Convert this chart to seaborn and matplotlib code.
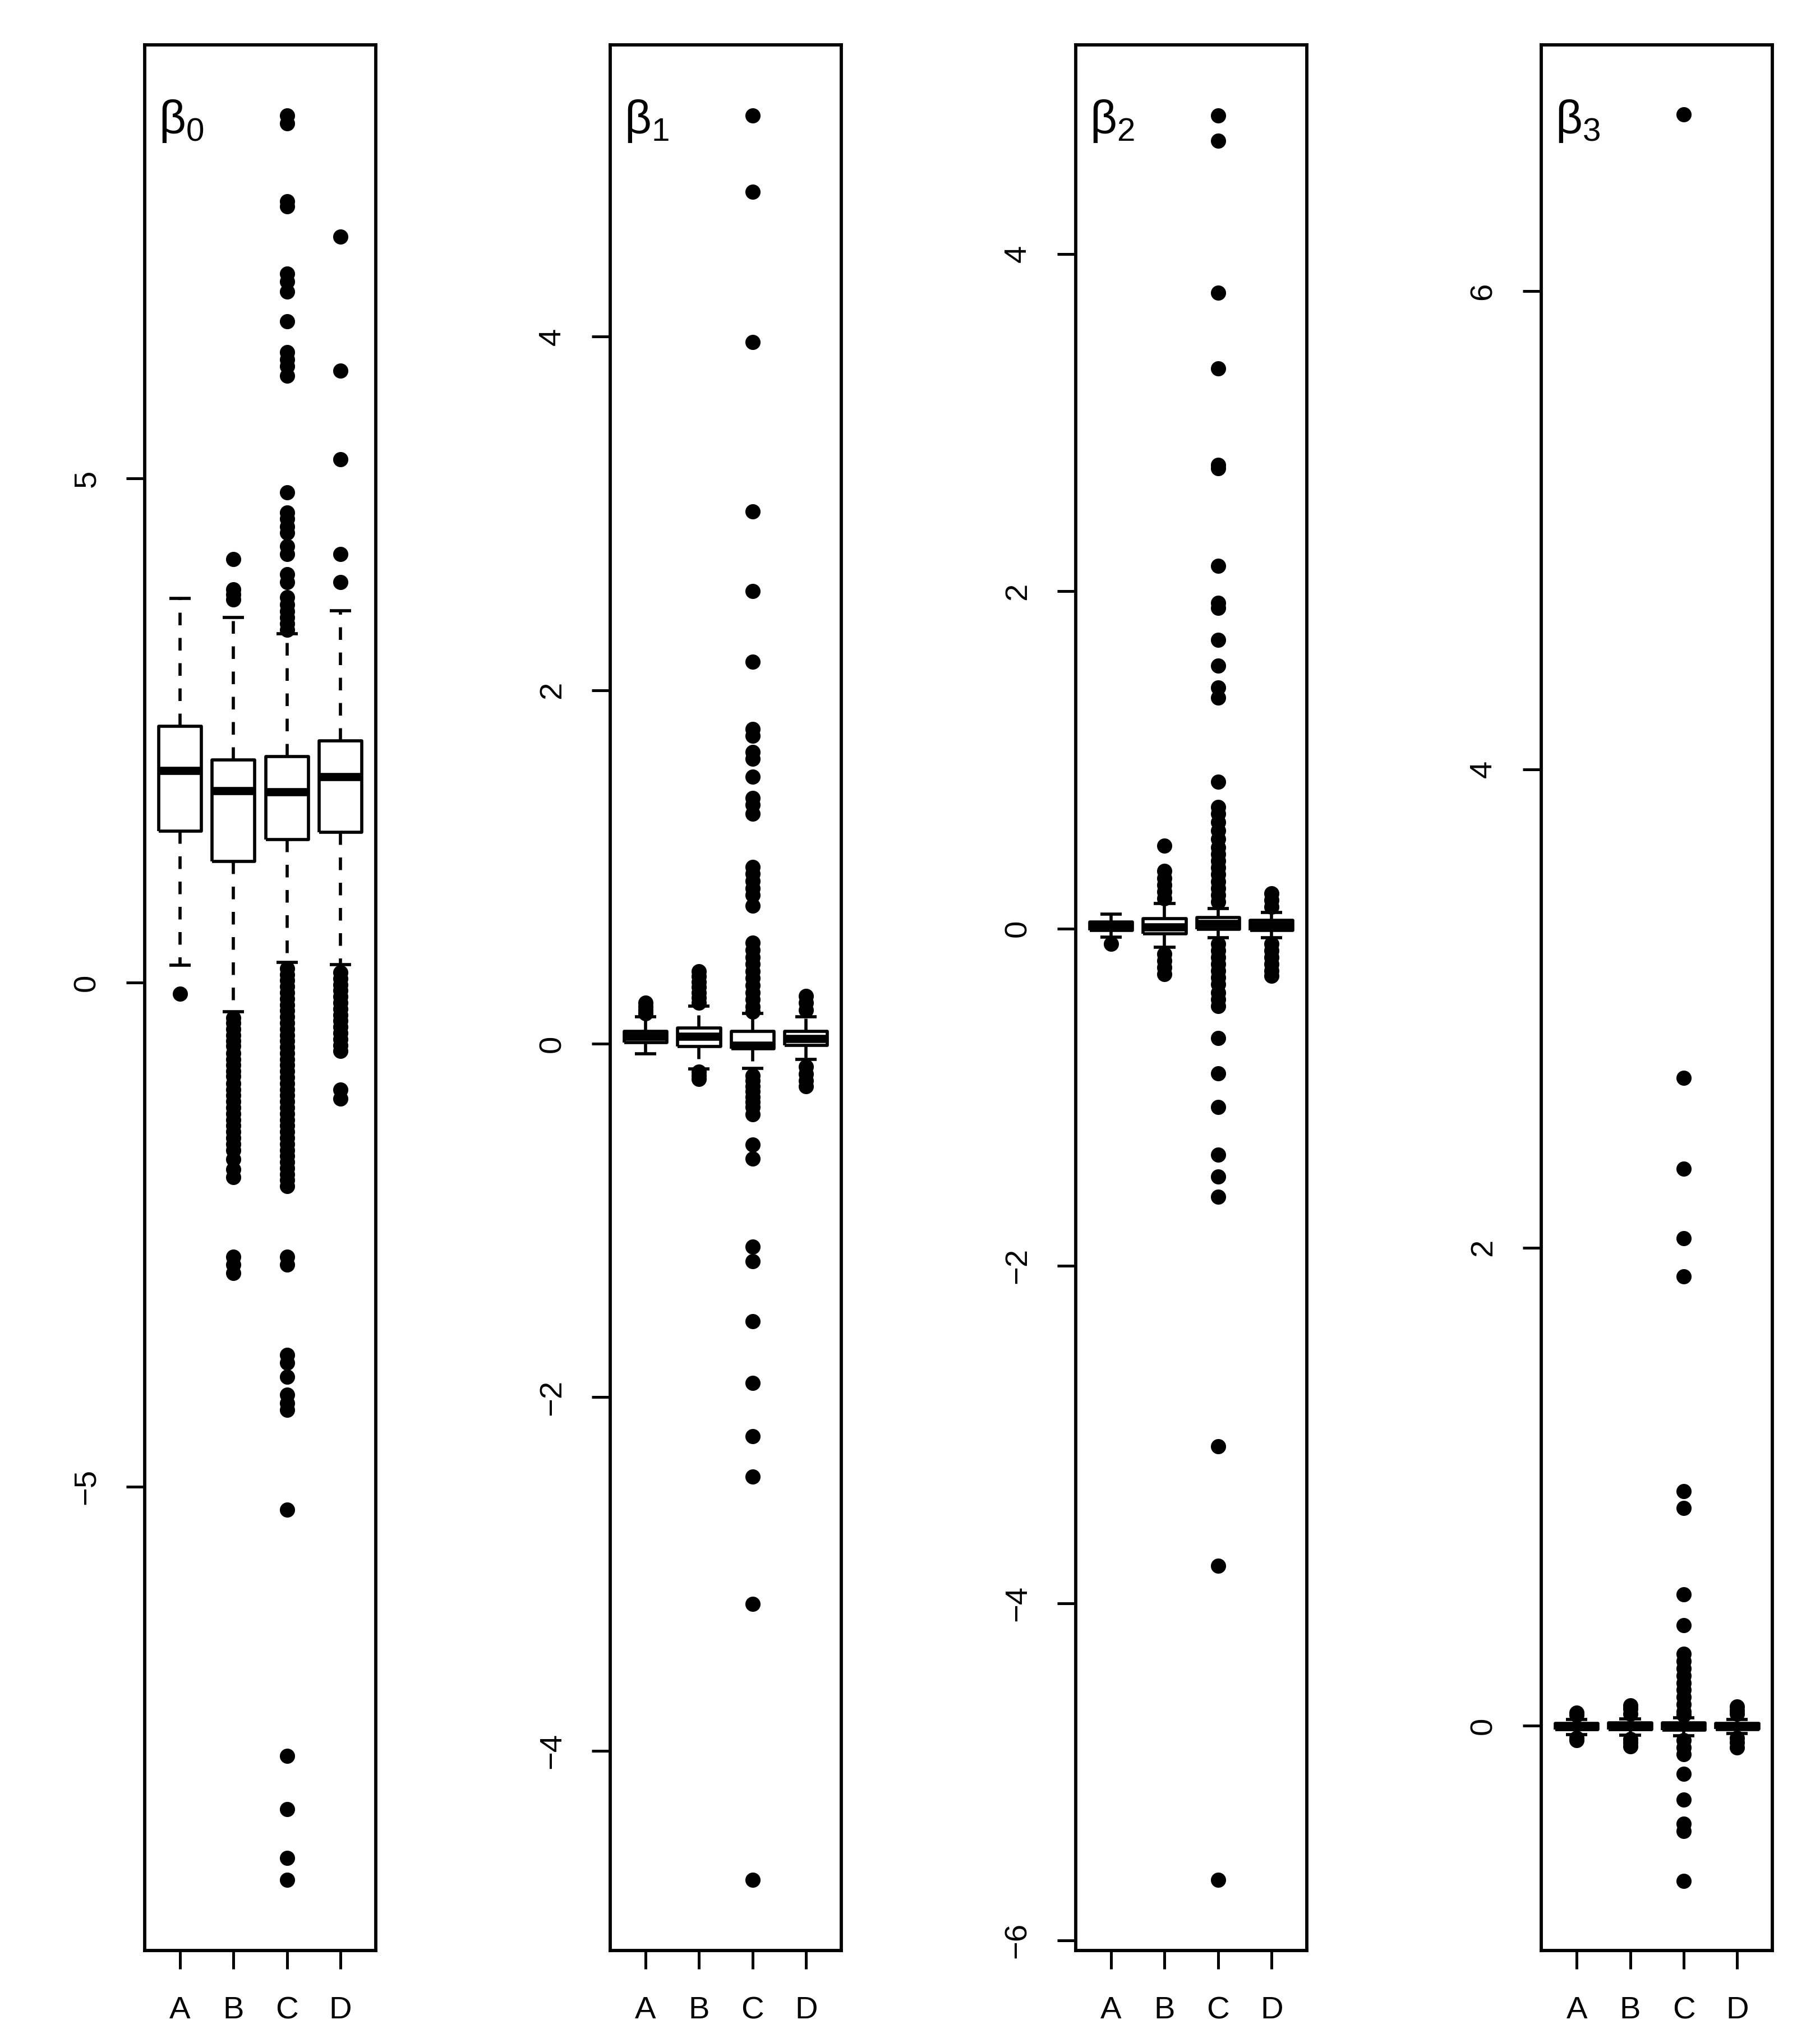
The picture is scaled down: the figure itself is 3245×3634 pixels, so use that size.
import matplotlib
matplotlib.use('Agg')
import matplotlib.pyplot as plt
import pandas as pd
import seaborn as sns
import numpy as np

grupos = ['A', 'B', 'C', 'D']

# resumen de cinco numeros por grupo: bigote inf, Q1, mediana, Q3, bigote sup
b0_stats = [[0.17, 1.50, 2.10, 2.54, 3.81],
            [-0.29, 1.20, 1.90, 2.21, 3.62],
            [0.20, 1.42, 1.89, 2.24, 3.46],
            [0.18, 1.49, 2.04, 2.40, 3.69]]
b0_out = {
    'A': [-0.11],
    'B': [4.20, 3.90, 3.85, 3.80,
          -0.35, -0.40, -0.46, -0.52, -0.58, -0.63, -0.70, -0.76, -0.82, -0.88,
          -0.93, -1.00, -1.06, -1.12, -1.18, -1.24, -1.30, -1.36, -1.42, -1.48,
          -1.54, -1.60, -1.66, -1.75, -1.85, -1.93, -2.72, -2.80, -2.88],
    'C': [8.60, 8.52, 7.75, 7.70, 7.03, 6.95, 6.85, 6.56, 6.25, 6.18, 6.11, 6.02,
          4.86, 4.66, 4.60, 4.52, 4.46, 4.33, 4.25, 4.05, 3.97, 3.82, 3.75, 3.68,
          3.62, 3.56, 3.50,
          0.14, 0.08, 0.02, -0.04, -0.10, -0.16, -0.22, -0.28, -0.34, -0.40, -0.46,
          -0.52, -0.58, -0.64, -0.70, -0.76, -0.82, -0.88, -0.94, -1.00, -1.06,
          -1.12, -1.18, -1.24, -1.30, -1.36, -1.42, -1.48, -1.54, -1.60, -1.66,
          -1.72, -1.78, -1.84, -1.90, -1.96, -2.02, -2.72, -2.80, -3.69, -3.77,
          -3.91, -4.09, -4.17, -4.24, -5.23, -7.67, -8.20, -8.68, -8.90],
    'D': [7.40, 6.07, 5.19, 4.25, 3.97,
          0.10, 0.04, -0.02, -0.08, -0.14, -0.20, -0.26, -0.32, -0.38, -0.44,
          -0.50, -0.56, -0.62, -0.68, -1.06, -1.15],
}

b1_stats = [[-0.057, 0.005, 0.04, 0.07, 0.153],
            [-0.143, -0.015, 0.04, 0.09, 0.213],
            [-0.14, -0.03, -0.01, 0.07, 0.17],
            [-0.09, -0.008, 0.03, 0.07, 0.152]]
b1_out = {
    'A': [0.17, 0.19, 0.21, 0.23],
    'B': [0.23, 0.26, 0.29, 0.32, 0.35, 0.38, 0.41, -0.16, -0.18, -0.20],
    'C': [5.25, 4.82, 3.97, 3.01, 2.56, 2.16, 1.78, 1.74, 1.65, 1.61, 1.51, 1.39,
          1.35, 1.30, 1.00, 0.96, 0.92, 0.88, 0.84, 0.78, 0.57, 0.53, 0.49, 0.45,
          0.41, 0.37, 0.33, 0.29, 0.25, 0.21, 0.18,
          -0.18, -0.21, -0.24, -0.27, -0.30, -0.33, -0.36, -0.40, -0.57, -0.65,
          -1.15, -1.23, -1.57, -1.92, -2.22, -2.45, -3.17, -4.73],
    'D': [0.19, 0.23, 0.27, -0.13, -0.17, -0.21, -0.24],
}

b2_stats = [[-0.05, -0.01, 0.015, 0.04, 0.086],
            [-0.11, -0.03, 0.01, 0.06, 0.15],
            [-0.055, -0.005, 0.03, 0.065, 0.12],
            [-0.055, -0.01, 0.02, 0.05, 0.095]]
b2_out = {
    'A': [-0.09],
    'B': [0.49, 0.34, 0.30, 0.26, 0.22, 0.18, -0.15, -0.19, -0.23, -0.27],
    'C': [4.82, 4.67, 3.77, 3.32, 2.75, 2.73, 2.15, 1.93, 1.90, 1.71, 1.56, 1.43,
          1.37, 0.87, 0.72, 0.68, 0.63, 0.58, 0.53, 0.48, 0.44, 0.40, 0.36, 0.32,
          0.28, 0.24, 0.20, 0.16,
          -0.09, -0.13, -0.17, -0.21, -0.25, -0.29, -0.33, -0.38, -0.42, -0.46,
          -0.65, -0.86, -1.06, -1.34, -1.47, -1.59, -3.07, -3.78, -5.64],
    'D': [0.13, 0.17, 0.21, -0.09, -0.13, -0.17, -0.21, -0.25, -0.28],
}

b3_stats = [[-0.037, -0.015, -0.005, 0.01, 0.027],
            [-0.04, -0.016, -0.005, 0.012, 0.03],
            [-0.041, -0.017, -0.005, 0.012, 0.033],
            [-0.033, -0.014, -0.004, 0.01, 0.027]]
b3_out = {
    'A': [0.045, 0.055, -0.05, -0.06],
    'B': [0.05, 0.07, 0.085, -0.055, -0.07, -0.085],
    'C': [6.74, 2.71, 2.33, 2.04, 1.88, 0.98, 0.91, 0.55, 0.42, 0.30, 0.27, 0.24,
          0.21, 0.18, 0.15, 0.12, 0.09, 0.06, 0.045,
          -0.06, -0.09, -0.12, -0.20, -0.31, -0.41, -0.44, -0.65],
    'D': [0.05, 0.065, 0.08, -0.05, -0.07, -0.09],
}

etiquetas = [r'$\mathrm{\beta_0}$', r'$\mathrm{\beta_1}$', r'$\mathrm{\beta_2}$', r'$\mathrm{\beta_3}$']
limites = [(-9.60, 9.30), (-5.13, 5.65), (-6.06, 5.24), (-0.94, 7.03)]
marcas = [[-5, 0, 5], [-4, -2, 0, 2, 4], [-6, -4, -2, 0, 2, 4], [0, 2, 4, 6]]

sns.set_style('ticks', {'axes.edgecolor': 'black', 'xtick.color': 'black',
                        'ytick.color': 'black', 'text.color': 'black'})
plt.rcParams['font.family'] = ['Liberation Sans', 'DejaVu Sans']
plt.rcParams['mathtext.fontset'] = 'custom'
plt.rcParams['mathtext.rm'] = 'Liberation Sans'
plt.rcParams['mathtext.it'] = 'Liberation Sans:italic'
plt.rcParams['lines.solid_capstyle'] = 'butt'

fig = plt.figure(figsize=(3245 / 300, 3634 / 300), dpi=300)
izquierdas = [0.0795, 0.3353, 0.5911, 0.8469]

paneles = [(b0_stats, b0_out), (b1_stats, b1_out), (b2_stats, b2_out), (b3_stats, b3_out)]

for i, (stats, outl) in enumerate(paneles):
    ax = fig.add_axes([izquierdas[i], 0.0429, 0.1270, 0.9351])

    caja = pd.DataFrame({'grupo': np.repeat(grupos, 5), 'valor': np.ravel(stats)})
    sns.boxplot(data=caja, x='grupo', y='valor', order=grupos, whis=np.inf,
                width=0.8, fill=False, color='black', linecolor='black',
                linewidth=1.35, showfliers=False,
                medianprops=dict(linewidth=3.5, color='black'),
                whiskerprops=dict(linestyle=(0, (4, 4)), color='black'),
                capprops=dict(linestyle='-', color='black'), ax=ax)

    puntos = pd.DataFrame([(g, v) for g in grupos for v in outl[g]],
                          columns=['grupo', 'valor'])
    sns.stripplot(data=puntos, x='grupo', y='valor', order=grupos, jitter=False,
                  color='black', size=6.5, linewidth=0, ax=ax)

    # margen del 4% como en R
    ax.set_xlim(-0.66, 3.66)
    ax.set_ylim(*limites[i])
    ax.set_yticks(marcas[i])
    ax.set_xlabel('')
    ax.set_ylabel('')
    for lado in ['left', 'right', 'top', 'bottom']:
        ax.spines[lado].set_visible(True)
        ax.spines[lado].set_linewidth(1.4)
        ax.spines[lado].set_color('black')
    ax.tick_params(axis='both', length=8, width=1.2, labelsize=13.5)
    ax.tick_params(axis='y', pad=10.5)
    ax.tick_params(axis='x', pad=11.5)
    for lab in ax.get_yticklabels():
        lab.set_rotation(90)
        lab.set_va('center')

    ax.text(0.06, 0.972, etiquetas[i], transform=ax.transAxes,
            fontsize=20, ha='left', va='top')

plt.savefig('out.png', dpi=300)
plt.close()
